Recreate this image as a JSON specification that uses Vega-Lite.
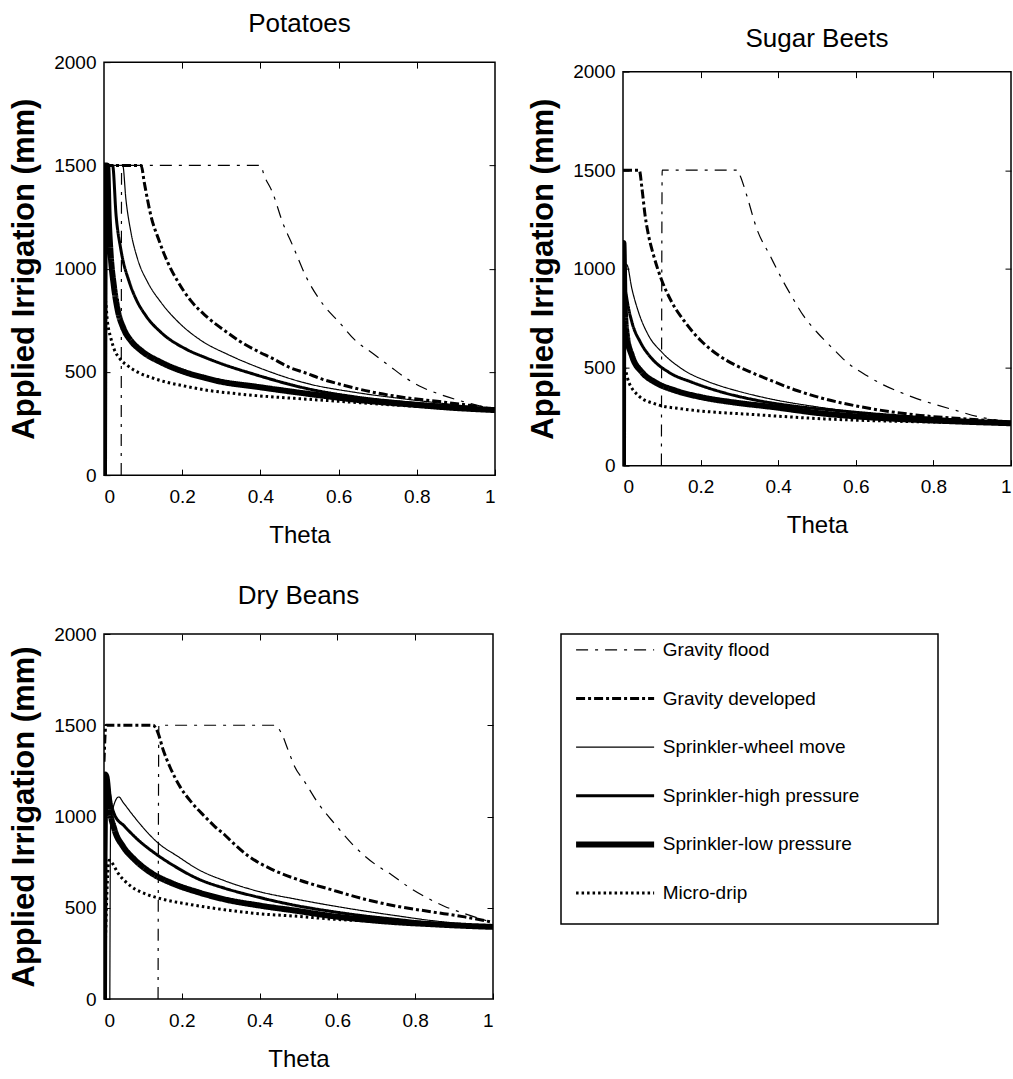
{
"$schema": "https://vega.github.io/schema/vega-lite/v6.json",
"padding": {"left": 7, "top": 10, "right": 0, "bottom": 0},
"background": "white",
"data": {"values": [
{"crop":"Potatoes","method":"Gravity flood","theta":0.044,"value":0},
{"crop":"Potatoes","method":"Gravity flood","theta":0.045,"value":1500},
{"crop":"Potatoes","method":"Gravity flood","theta":0.4,"value":1500},
{"crop":"Potatoes","method":"Gravity flood","theta":0.41,"value":1449},
{"crop":"Potatoes","method":"Gravity flood","theta":0.431,"value":1369},
{"crop":"Potatoes","method":"Gravity flood","theta":0.457,"value":1223},
{"crop":"Potatoes","method":"Gravity flood","theta":0.483,"value":1110},
{"crop":"Potatoes","method":"Gravity flood","theta":0.517,"value":960},
{"crop":"Potatoes","method":"Gravity flood","theta":0.559,"value":830},
{"crop":"Potatoes","method":"Gravity flood","theta":0.602,"value":739},
{"crop":"Potatoes","method":"Gravity flood","theta":0.644,"value":650},
{"crop":"Potatoes","method":"Gravity flood","theta":0.687,"value":590},
{"crop":"Potatoes","method":"Gravity flood","theta":0.73,"value":529},
{"crop":"Potatoes","method":"Gravity flood","theta":0.772,"value":470},
{"crop":"Potatoes","method":"Gravity flood","theta":0.815,"value":424},
{"crop":"Potatoes","method":"Gravity flood","theta":0.858,"value":392},
{"crop":"Potatoes","method":"Gravity flood","theta":0.9,"value":366},
{"crop":"Potatoes","method":"Gravity flood","theta":0.943,"value":344},
{"crop":"Potatoes","method":"Gravity flood","theta":1,"value":318},
{"crop":"Potatoes","method":"Gravity developed","theta":0,"value":1500},
{"crop":"Potatoes","method":"Gravity developed","theta":0.095,"value":1500},
{"crop":"Potatoes","method":"Gravity developed","theta":0.103,"value":1417},
{"crop":"Potatoes","method":"Gravity developed","theta":0.12,"value":1256},
{"crop":"Potatoes","method":"Gravity developed","theta":0.141,"value":1135},
{"crop":"Potatoes","method":"Gravity developed","theta":0.163,"value":1030},
{"crop":"Potatoes","method":"Gravity developed","theta":0.188,"value":940},
{"crop":"Potatoes","method":"Gravity developed","theta":0.222,"value":845},
{"crop":"Potatoes","method":"Gravity developed","theta":0.261,"value":770},
{"crop":"Potatoes","method":"Gravity developed","theta":0.316,"value":690},
{"crop":"Potatoes","method":"Gravity developed","theta":0.346,"value":650},
{"crop":"Potatoes","method":"Gravity developed","theta":0.393,"value":600},
{"crop":"Potatoes","method":"Gravity developed","theta":0.431,"value":565},
{"crop":"Potatoes","method":"Gravity developed","theta":0.474,"value":522},
{"crop":"Potatoes","method":"Gravity developed","theta":0.517,"value":494},
{"crop":"Potatoes","method":"Gravity developed","theta":0.559,"value":464},
{"crop":"Potatoes","method":"Gravity developed","theta":0.602,"value":441},
{"crop":"Potatoes","method":"Gravity developed","theta":0.687,"value":402},
{"crop":"Potatoes","method":"Gravity developed","theta":0.772,"value":375},
{"crop":"Potatoes","method":"Gravity developed","theta":0.858,"value":356},
{"crop":"Potatoes","method":"Gravity developed","theta":0.934,"value":338},
{"crop":"Potatoes","method":"Gravity developed","theta":1,"value":318},
{"crop":"Potatoes","method":"Sprinkler-wheel move","theta":0,"value":0},
{"crop":"Potatoes","method":"Sprinkler-wheel move","theta":0.003,"value":1500},
{"crop":"Potatoes","method":"Sprinkler-wheel move","theta":0.048,"value":1500},
{"crop":"Potatoes","method":"Sprinkler-wheel move","theta":0.056,"value":1337},
{"crop":"Potatoes","method":"Sprinkler-wheel move","theta":0.069,"value":1175},
{"crop":"Potatoes","method":"Sprinkler-wheel move","theta":0.086,"value":1046},
{"crop":"Potatoes","method":"Sprinkler-wheel move","theta":0.112,"value":933},
{"crop":"Potatoes","method":"Sprinkler-wheel move","theta":0.146,"value":836},
{"crop":"Potatoes","method":"Sprinkler-wheel move","theta":0.188,"value":745},
{"crop":"Potatoes","method":"Sprinkler-wheel move","theta":0.25,"value":650},
{"crop":"Potatoes","method":"Sprinkler-wheel move","theta":0.316,"value":585},
{"crop":"Potatoes","method":"Sprinkler-wheel move","theta":0.39,"value":525},
{"crop":"Potatoes","method":"Sprinkler-wheel move","theta":0.517,"value":445},
{"crop":"Potatoes","method":"Sprinkler-wheel move","theta":0.645,"value":400},
{"crop":"Potatoes","method":"Sprinkler-wheel move","theta":0.772,"value":368},
{"crop":"Potatoes","method":"Sprinkler-wheel move","theta":0.9,"value":340},
{"crop":"Potatoes","method":"Sprinkler-wheel move","theta":1,"value":318},
{"crop":"Potatoes","method":"Sprinkler-high pressure","theta":0,"value":0},
{"crop":"Potatoes","method":"Sprinkler-high pressure","theta":0.003,"value":1500},
{"crop":"Potatoes","method":"Sprinkler-high pressure","theta":0.022,"value":1500},
{"crop":"Potatoes","method":"Sprinkler-high pressure","theta":0.031,"value":1256},
{"crop":"Potatoes","method":"Sprinkler-high pressure","theta":0.043,"value":1094},
{"crop":"Potatoes","method":"Sprinkler-high pressure","theta":0.065,"value":933},
{"crop":"Potatoes","method":"Sprinkler-high pressure","theta":0.082,"value":852},
{"crop":"Potatoes","method":"Sprinkler-high pressure","theta":0.107,"value":772},
{"crop":"Potatoes","method":"Sprinkler-high pressure","theta":0.146,"value":691},
{"crop":"Potatoes","method":"Sprinkler-high pressure","theta":0.21,"value":610},
{"crop":"Potatoes","method":"Sprinkler-high pressure","theta":0.261,"value":568},
{"crop":"Potatoes","method":"Sprinkler-high pressure","theta":0.291,"value":546},
{"crop":"Potatoes","method":"Sprinkler-high pressure","theta":0.39,"value":485},
{"crop":"Potatoes","method":"Sprinkler-high pressure","theta":0.517,"value":420},
{"crop":"Potatoes","method":"Sprinkler-high pressure","theta":0.645,"value":378},
{"crop":"Potatoes","method":"Sprinkler-high pressure","theta":0.772,"value":352},
{"crop":"Potatoes","method":"Sprinkler-high pressure","theta":0.9,"value":334},
{"crop":"Potatoes","method":"Sprinkler-high pressure","theta":1,"value":318},
{"crop":"Potatoes","method":"Sprinkler-low pressure","theta":0,"value":0},
{"crop":"Potatoes","method":"Sprinkler-low pressure","theta":0.003,"value":1500},
{"crop":"Potatoes","method":"Sprinkler-low pressure","theta":0.008,"value":1500},
{"crop":"Potatoes","method":"Sprinkler-low pressure","theta":0.012,"value":1250},
{"crop":"Potatoes","method":"Sprinkler-low pressure","theta":0.017,"value":1070},
{"crop":"Potatoes","method":"Sprinkler-low pressure","theta":0.025,"value":920},
{"crop":"Potatoes","method":"Sprinkler-low pressure","theta":0.035,"value":800},
{"crop":"Potatoes","method":"Sprinkler-low pressure","theta":0.05,"value":710},
{"crop":"Potatoes","method":"Sprinkler-low pressure","theta":0.07,"value":648},
{"crop":"Potatoes","method":"Sprinkler-low pressure","theta":0.095,"value":603},
{"crop":"Potatoes","method":"Sprinkler-low pressure","theta":0.146,"value":546},
{"crop":"Potatoes","method":"Sprinkler-low pressure","theta":0.205,"value":500},
{"crop":"Potatoes","method":"Sprinkler-low pressure","theta":0.26,"value":470},
{"crop":"Potatoes","method":"Sprinkler-low pressure","theta":0.29,"value":456},
{"crop":"Potatoes","method":"Sprinkler-low pressure","theta":0.39,"value":428},
{"crop":"Potatoes","method":"Sprinkler-low pressure","theta":0.517,"value":395},
{"crop":"Potatoes","method":"Sprinkler-low pressure","theta":0.645,"value":365},
{"crop":"Potatoes","method":"Sprinkler-low pressure","theta":0.772,"value":344},
{"crop":"Potatoes","method":"Sprinkler-low pressure","theta":0.9,"value":325},
{"crop":"Potatoes","method":"Sprinkler-low pressure","theta":1,"value":315},
{"crop":"Potatoes","method":"Micro-drip","theta":0,"value":0},
{"crop":"Potatoes","method":"Micro-drip","theta":0.003,"value":850},
{"crop":"Potatoes","method":"Micro-drip","theta":0.009,"value":740},
{"crop":"Potatoes","method":"Micro-drip","theta":0.018,"value":660},
{"crop":"Potatoes","method":"Micro-drip","theta":0.026,"value":610},
{"crop":"Potatoes","method":"Micro-drip","theta":0.04,"value":565},
{"crop":"Potatoes","method":"Micro-drip","theta":0.061,"value":529},
{"crop":"Potatoes","method":"Micro-drip","theta":0.09,"value":495},
{"crop":"Potatoes","method":"Micro-drip","theta":0.12,"value":473},
{"crop":"Potatoes","method":"Micro-drip","theta":0.16,"value":450},
{"crop":"Potatoes","method":"Micro-drip","theta":0.205,"value":432},
{"crop":"Potatoes","method":"Micro-drip","theta":0.26,"value":412},
{"crop":"Potatoes","method":"Micro-drip","theta":0.33,"value":396},
{"crop":"Potatoes","method":"Micro-drip","theta":0.39,"value":385},
{"crop":"Potatoes","method":"Micro-drip","theta":0.517,"value":368},
{"crop":"Potatoes","method":"Micro-drip","theta":0.645,"value":352},
{"crop":"Potatoes","method":"Micro-drip","theta":0.772,"value":336},
{"crop":"Potatoes","method":"Micro-drip","theta":0.9,"value":322},
{"crop":"Potatoes","method":"Micro-drip","theta":1,"value":315},
{"crop":"Sugar Beets","method":"Gravity flood","theta":0.099,"value":0},
{"crop":"Sugar Beets","method":"Gravity flood","theta":0.101,"value":1500},
{"crop":"Sugar Beets","method":"Gravity flood","theta":0.295,"value":1500},
{"crop":"Sugar Beets","method":"Gravity flood","theta":0.302,"value":1472},
{"crop":"Sugar Beets","method":"Gravity flood","theta":0.319,"value":1371},
{"crop":"Sugar Beets","method":"Gravity flood","theta":0.345,"value":1201},
{"crop":"Sugar Beets","method":"Gravity flood","theta":0.379,"value":1066},
{"crop":"Sugar Beets","method":"Gravity flood","theta":0.414,"value":931},
{"crop":"Sugar Beets","method":"Gravity flood","theta":0.439,"value":845},
{"crop":"Sugar Beets","method":"Gravity flood","theta":0.465,"value":761},
{"crop":"Sugar Beets","method":"Gravity flood","theta":0.5,"value":677},
{"crop":"Sugar Beets","method":"Gravity flood","theta":0.542,"value":592},
{"crop":"Sugar Beets","method":"Gravity flood","theta":0.577,"value":525},
{"crop":"Sugar Beets","method":"Gravity flood","theta":0.628,"value":457},
{"crop":"Sugar Beets","method":"Gravity flood","theta":0.671,"value":410},
{"crop":"Sugar Beets","method":"Gravity flood","theta":0.714,"value":373},
{"crop":"Sugar Beets","method":"Gravity flood","theta":0.757,"value":340},
{"crop":"Sugar Beets","method":"Gravity flood","theta":0.8,"value":313},
{"crop":"Sugar Beets","method":"Gravity flood","theta":0.86,"value":279},
{"crop":"Sugar Beets","method":"Gravity flood","theta":0.92,"value":246},
{"crop":"Sugar Beets","method":"Gravity flood","theta":0.96,"value":232},
{"crop":"Sugar Beets","method":"Gravity flood","theta":1,"value":220},
{"crop":"Sugar Beets","method":"Gravity developed","theta":0,"value":1500},
{"crop":"Sugar Beets","method":"Gravity developed","theta":0.042,"value":1500},
{"crop":"Sugar Beets","method":"Gravity developed","theta":0.049,"value":1405},
{"crop":"Sugar Beets","method":"Gravity developed","theta":0.057,"value":1269},
{"crop":"Sugar Beets","method":"Gravity developed","theta":0.066,"value":1167},
{"crop":"Sugar Beets","method":"Gravity developed","theta":0.079,"value":1066},
{"crop":"Sugar Beets","method":"Gravity developed","theta":0.1,"value":940},
{"crop":"Sugar Beets","method":"Gravity developed","theta":0.126,"value":829},
{"crop":"Sugar Beets","method":"Gravity developed","theta":0.16,"value":728},
{"crop":"Sugar Beets","method":"Gravity developed","theta":0.203,"value":630},
{"crop":"Sugar Beets","method":"Gravity developed","theta":0.25,"value":555},
{"crop":"Sugar Beets","method":"Gravity developed","theta":0.29,"value":510},
{"crop":"Sugar Beets","method":"Gravity developed","theta":0.323,"value":480},
{"crop":"Sugar Beets","method":"Gravity developed","theta":0.384,"value":430},
{"crop":"Sugar Beets","method":"Gravity developed","theta":0.45,"value":380},
{"crop":"Sugar Beets","method":"Gravity developed","theta":0.508,"value":345},
{"crop":"Sugar Beets","method":"Gravity developed","theta":0.637,"value":290},
{"crop":"Sugar Beets","method":"Gravity developed","theta":0.766,"value":255},
{"crop":"Sugar Beets","method":"Gravity developed","theta":0.894,"value":236},
{"crop":"Sugar Beets","method":"Gravity developed","theta":1,"value":222},
{"crop":"Sugar Beets","method":"Sprinkler-wheel move","theta":0,"value":0},
{"crop":"Sugar Beets","method":"Sprinkler-wheel move","theta":0.004,"value":1024},
{"crop":"Sugar Beets","method":"Sprinkler-wheel move","theta":0.01,"value":1020},
{"crop":"Sugar Beets","method":"Sprinkler-wheel move","theta":0.023,"value":897},
{"crop":"Sugar Beets","method":"Sprinkler-wheel move","theta":0.04,"value":779},
{"crop":"Sugar Beets","method":"Sprinkler-wheel move","theta":0.066,"value":660},
{"crop":"Sugar Beets","method":"Sprinkler-wheel move","theta":0.1,"value":576},
{"crop":"Sugar Beets","method":"Sprinkler-wheel move","theta":0.152,"value":491},
{"crop":"Sugar Beets","method":"Sprinkler-wheel move","theta":0.221,"value":425},
{"crop":"Sugar Beets","method":"Sprinkler-wheel move","theta":0.25,"value":405},
{"crop":"Sugar Beets","method":"Sprinkler-wheel move","theta":0.306,"value":373},
{"crop":"Sugar Beets","method":"Sprinkler-wheel move","theta":0.379,"value":339},
{"crop":"Sugar Beets","method":"Sprinkler-wheel move","theta":0.508,"value":296},
{"crop":"Sugar Beets","method":"Sprinkler-wheel move","theta":0.637,"value":264},
{"crop":"Sugar Beets","method":"Sprinkler-wheel move","theta":0.766,"value":246},
{"crop":"Sugar Beets","method":"Sprinkler-wheel move","theta":0.894,"value":229},
{"crop":"Sugar Beets","method":"Sprinkler-wheel move","theta":1,"value":218},
{"crop":"Sugar Beets","method":"Sprinkler-high pressure","theta":0,"value":0},
{"crop":"Sugar Beets","method":"Sprinkler-high pressure","theta":0.001,"value":1050},
{"crop":"Sugar Beets","method":"Sprinkler-high pressure","theta":0.003,"value":950},
{"crop":"Sugar Beets","method":"Sprinkler-high pressure","theta":0.01,"value":846},
{"crop":"Sugar Beets","method":"Sprinkler-high pressure","theta":0.023,"value":728},
{"crop":"Sugar Beets","method":"Sprinkler-high pressure","theta":0.045,"value":626},
{"crop":"Sugar Beets","method":"Sprinkler-high pressure","theta":0.075,"value":542},
{"crop":"Sugar Beets","method":"Sprinkler-high pressure","theta":0.118,"value":474},
{"crop":"Sugar Beets","method":"Sprinkler-high pressure","theta":0.178,"value":423},
{"crop":"Sugar Beets","method":"Sprinkler-high pressure","theta":0.255,"value":373},
{"crop":"Sugar Beets","method":"Sprinkler-high pressure","theta":0.349,"value":330},
{"crop":"Sugar Beets","method":"Sprinkler-high pressure","theta":0.45,"value":300},
{"crop":"Sugar Beets","method":"Sprinkler-high pressure","theta":0.55,"value":280},
{"crop":"Sugar Beets","method":"Sprinkler-high pressure","theta":0.65,"value":262},
{"crop":"Sugar Beets","method":"Sprinkler-high pressure","theta":0.766,"value":245},
{"crop":"Sugar Beets","method":"Sprinkler-high pressure","theta":0.894,"value":228},
{"crop":"Sugar Beets","method":"Sprinkler-high pressure","theta":1,"value":217},
{"crop":"Sugar Beets","method":"Sprinkler-low pressure","theta":0,"value":0},
{"crop":"Sugar Beets","method":"Sprinkler-low pressure","theta":0.001,"value":1130},
{"crop":"Sugar Beets","method":"Sprinkler-low pressure","theta":0.004,"value":820},
{"crop":"Sugar Beets","method":"Sprinkler-low pressure","theta":0.01,"value":660},
{"crop":"Sugar Beets","method":"Sprinkler-low pressure","theta":0.023,"value":558},
{"crop":"Sugar Beets","method":"Sprinkler-low pressure","theta":0.049,"value":474},
{"crop":"Sugar Beets","method":"Sprinkler-low pressure","theta":0.083,"value":423},
{"crop":"Sugar Beets","method":"Sprinkler-low pressure","theta":0.135,"value":381},
{"crop":"Sugar Beets","method":"Sprinkler-low pressure","theta":0.203,"value":347},
{"crop":"Sugar Beets","method":"Sprinkler-low pressure","theta":0.289,"value":320},
{"crop":"Sugar Beets","method":"Sprinkler-low pressure","theta":0.384,"value":298},
{"crop":"Sugar Beets","method":"Sprinkler-low pressure","theta":0.508,"value":266},
{"crop":"Sugar Beets","method":"Sprinkler-low pressure","theta":0.637,"value":245},
{"crop":"Sugar Beets","method":"Sprinkler-low pressure","theta":0.766,"value":232},
{"crop":"Sugar Beets","method":"Sprinkler-low pressure","theta":0.894,"value":222},
{"crop":"Sugar Beets","method":"Sprinkler-low pressure","theta":1,"value":215},
{"crop":"Sugar Beets","method":"Micro-drip","theta":0,"value":0},
{"crop":"Sugar Beets","method":"Micro-drip","theta":0.002,"value":500},
{"crop":"Sugar Beets","method":"Micro-drip","theta":0.015,"value":423},
{"crop":"Sugar Beets","method":"Micro-drip","theta":0.04,"value":355},
{"crop":"Sugar Beets","method":"Micro-drip","theta":0.083,"value":313},
{"crop":"Sugar Beets","method":"Micro-drip","theta":0.152,"value":288},
{"crop":"Sugar Beets","method":"Micro-drip","theta":0.238,"value":271},
{"crop":"Sugar Beets","method":"Micro-drip","theta":0.323,"value":261},
{"crop":"Sugar Beets","method":"Micro-drip","theta":0.384,"value":253},
{"crop":"Sugar Beets","method":"Micro-drip","theta":0.52,"value":237},
{"crop":"Sugar Beets","method":"Micro-drip","theta":0.65,"value":228},
{"crop":"Sugar Beets","method":"Micro-drip","theta":0.8,"value":221},
{"crop":"Sugar Beets","method":"Micro-drip","theta":1,"value":214},
{"crop":"Dry Beans","method":"Gravity flood","theta":0.139,"value":0},
{"crop":"Dry Beans","method":"Gravity flood","theta":0.141,"value":1500},
{"crop":"Dry Beans","method":"Gravity flood","theta":0.439,"value":1500},
{"crop":"Dry Beans","method":"Gravity flood","theta":0.456,"value":1457},
{"crop":"Dry Beans","method":"Gravity flood","theta":0.473,"value":1366},
{"crop":"Dry Beans","method":"Gravity flood","theta":0.49,"value":1274},
{"crop":"Dry Beans","method":"Gravity flood","theta":0.516,"value":1190},
{"crop":"Dry Beans","method":"Gravity flood","theta":0.55,"value":1074},
{"crop":"Dry Beans","method":"Gravity flood","theta":0.593,"value":960},
{"crop":"Dry Beans","method":"Gravity flood","theta":0.644,"value":836},
{"crop":"Dry Beans","method":"Gravity flood","theta":0.696,"value":740},
{"crop":"Dry Beans","method":"Gravity flood","theta":0.739,"value":681},
{"crop":"Dry Beans","method":"Gravity flood","theta":0.781,"value":617},
{"crop":"Dry Beans","method":"Gravity flood","theta":0.824,"value":562},
{"crop":"Dry Beans","method":"Gravity flood","theta":0.876,"value":507},
{"crop":"Dry Beans","method":"Gravity flood","theta":0.927,"value":468},
{"crop":"Dry Beans","method":"Gravity flood","theta":0.961,"value":444},
{"crop":"Dry Beans","method":"Gravity flood","theta":1,"value":418},
{"crop":"Dry Beans","method":"Gravity developed","theta":0,"value":1300},
{"crop":"Dry Beans","method":"Gravity developed","theta":0.005,"value":1500},
{"crop":"Dry Beans","method":"Gravity developed","theta":0.126,"value":1500},
{"crop":"Dry Beans","method":"Gravity developed","theta":0.139,"value":1457},
{"crop":"Dry Beans","method":"Gravity developed","theta":0.152,"value":1366},
{"crop":"Dry Beans","method":"Gravity developed","theta":0.169,"value":1274},
{"crop":"Dry Beans","method":"Gravity developed","theta":0.195,"value":1165},
{"crop":"Dry Beans","method":"Gravity developed","theta":0.224,"value":1080},
{"crop":"Dry Beans","method":"Gravity developed","theta":0.259,"value":1000},
{"crop":"Dry Beans","method":"Gravity developed","theta":0.285,"value":945},
{"crop":"Dry Beans","method":"Gravity developed","theta":0.31,"value":900},
{"crop":"Dry Beans","method":"Gravity developed","theta":0.327,"value":865},
{"crop":"Dry Beans","method":"Gravity developed","theta":0.37,"value":785},
{"crop":"Dry Beans","method":"Gravity developed","theta":0.43,"value":712},
{"crop":"Dry Beans","method":"Gravity developed","theta":0.499,"value":654},
{"crop":"Dry Beans","method":"Gravity developed","theta":0.584,"value":599},
{"crop":"Dry Beans","method":"Gravity developed","theta":0.67,"value":547},
{"crop":"Dry Beans","method":"Gravity developed","theta":0.756,"value":507},
{"crop":"Dry Beans","method":"Gravity developed","theta":0.841,"value":478},
{"crop":"Dry Beans","method":"Gravity developed","theta":0.927,"value":450},
{"crop":"Dry Beans","method":"Gravity developed","theta":1,"value":420},
{"crop":"Dry Beans","method":"Sprinkler-wheel move","theta":0.015,"value":0},
{"crop":"Dry Beans","method":"Sprinkler-wheel move","theta":0.017,"value":960},
{"crop":"Dry Beans","method":"Sprinkler-wheel move","theta":0.025,"value":1060},
{"crop":"Dry Beans","method":"Sprinkler-wheel move","theta":0.038,"value":1107},
{"crop":"Dry Beans","method":"Sprinkler-wheel move","theta":0.05,"value":1075},
{"crop":"Dry Beans","method":"Sprinkler-wheel move","theta":0.07,"value":1019},
{"crop":"Dry Beans","method":"Sprinkler-wheel move","theta":0.105,"value":928},
{"crop":"Dry Beans","method":"Sprinkler-wheel move","theta":0.139,"value":855},
{"crop":"Dry Beans","method":"Sprinkler-wheel move","theta":0.19,"value":781},
{"crop":"Dry Beans","method":"Sprinkler-wheel move","theta":0.242,"value":710},
{"crop":"Dry Beans","method":"Sprinkler-wheel move","theta":0.31,"value":648},
{"crop":"Dry Beans","method":"Sprinkler-wheel move","theta":0.4,"value":588},
{"crop":"Dry Beans","method":"Sprinkler-wheel move","theta":0.499,"value":545},
{"crop":"Dry Beans","method":"Sprinkler-wheel move","theta":0.584,"value":512},
{"crop":"Dry Beans","method":"Sprinkler-wheel move","theta":0.67,"value":482},
{"crop":"Dry Beans","method":"Sprinkler-wheel move","theta":0.756,"value":455},
{"crop":"Dry Beans","method":"Sprinkler-wheel move","theta":0.841,"value":430},
{"crop":"Dry Beans","method":"Sprinkler-wheel move","theta":0.927,"value":412},
{"crop":"Dry Beans","method":"Sprinkler-wheel move","theta":1,"value":400},
{"crop":"Dry Beans","method":"Sprinkler-high pressure","theta":0,"value":0},
{"crop":"Dry Beans","method":"Sprinkler-high pressure","theta":0.008,"value":1190},
{"crop":"Dry Beans","method":"Sprinkler-high pressure","theta":0.012,"value":1150},
{"crop":"Dry Beans","method":"Sprinkler-high pressure","theta":0.02,"value":1060},
{"crop":"Dry Beans","method":"Sprinkler-high pressure","theta":0.027,"value":1010},
{"crop":"Dry Beans","method":"Sprinkler-high pressure","theta":0.053,"value":946},
{"crop":"Dry Beans","method":"Sprinkler-high pressure","theta":0.087,"value":873},
{"crop":"Dry Beans","method":"Sprinkler-high pressure","theta":0.13,"value":800},
{"crop":"Dry Beans","method":"Sprinkler-high pressure","theta":0.182,"value":727},
{"crop":"Dry Beans","method":"Sprinkler-high pressure","theta":0.242,"value":658},
{"crop":"Dry Beans","method":"Sprinkler-high pressure","theta":0.31,"value":607},
{"crop":"Dry Beans","method":"Sprinkler-high pressure","theta":0.387,"value":563},
{"crop":"Dry Beans","method":"Sprinkler-high pressure","theta":0.499,"value":510},
{"crop":"Dry Beans","method":"Sprinkler-high pressure","theta":0.584,"value":480},
{"crop":"Dry Beans","method":"Sprinkler-high pressure","theta":0.67,"value":455},
{"crop":"Dry Beans","method":"Sprinkler-high pressure","theta":0.756,"value":435},
{"crop":"Dry Beans","method":"Sprinkler-high pressure","theta":0.841,"value":416},
{"crop":"Dry Beans","method":"Sprinkler-high pressure","theta":0.927,"value":404},
{"crop":"Dry Beans","method":"Sprinkler-high pressure","theta":1,"value":398},
{"crop":"Dry Beans","method":"Sprinkler-low pressure","theta":0,"value":0},
{"crop":"Dry Beans","method":"Sprinkler-low pressure","theta":0.003,"value":1230},
{"crop":"Dry Beans","method":"Sprinkler-low pressure","theta":0.006,"value":1220},
{"crop":"Dry Beans","method":"Sprinkler-low pressure","theta":0.015,"value":1037},
{"crop":"Dry Beans","method":"Sprinkler-low pressure","theta":0.027,"value":928},
{"crop":"Dry Beans","method":"Sprinkler-low pressure","theta":0.049,"value":836},
{"crop":"Dry Beans","method":"Sprinkler-low pressure","theta":0.079,"value":763},
{"crop":"Dry Beans","method":"Sprinkler-low pressure","theta":0.122,"value":690},
{"crop":"Dry Beans","method":"Sprinkler-low pressure","theta":0.173,"value":636},
{"crop":"Dry Beans","method":"Sprinkler-low pressure","theta":0.242,"value":585},
{"crop":"Dry Beans","method":"Sprinkler-low pressure","theta":0.31,"value":546},
{"crop":"Dry Beans","method":"Sprinkler-low pressure","theta":0.4,"value":512},
{"crop":"Dry Beans","method":"Sprinkler-low pressure","theta":0.499,"value":482},
{"crop":"Dry Beans","method":"Sprinkler-low pressure","theta":0.584,"value":455},
{"crop":"Dry Beans","method":"Sprinkler-low pressure","theta":0.67,"value":435},
{"crop":"Dry Beans","method":"Sprinkler-low pressure","theta":0.756,"value":420},
{"crop":"Dry Beans","method":"Sprinkler-low pressure","theta":0.841,"value":410},
{"crop":"Dry Beans","method":"Sprinkler-low pressure","theta":0.927,"value":401},
{"crop":"Dry Beans","method":"Sprinkler-low pressure","theta":1,"value":395},
{"crop":"Dry Beans","method":"Micro-drip","theta":0,"value":0},
{"crop":"Dry Beans","method":"Micro-drip","theta":0.013,"value":760},
{"crop":"Dry Beans","method":"Micro-drip","theta":0.019,"value":750},
{"crop":"Dry Beans","method":"Micro-drip","theta":0.036,"value":690},
{"crop":"Dry Beans","method":"Micro-drip","theta":0.07,"value":617},
{"crop":"Dry Beans","method":"Micro-drip","theta":0.113,"value":571},
{"crop":"Dry Beans","method":"Micro-drip","theta":0.156,"value":544},
{"crop":"Dry Beans","method":"Micro-drip","theta":0.224,"value":517},
{"crop":"Dry Beans","method":"Micro-drip","theta":0.31,"value":489},
{"crop":"Dry Beans","method":"Micro-drip","theta":0.4,"value":467},
{"crop":"Dry Beans","method":"Micro-drip","theta":0.499,"value":453},
{"crop":"Dry Beans","method":"Micro-drip","theta":0.584,"value":438},
{"crop":"Dry Beans","method":"Micro-drip","theta":0.7,"value":425},
{"crop":"Dry Beans","method":"Micro-drip","theta":0.85,"value":410},
{"crop":"Dry Beans","method":"Micro-drip","theta":1,"value":395}
]},
"spacing": 34,
"vconcat": [
{"hconcat": [
{"title": {"text": "Potatoes"},
 "width": 391, "height": 413,
 "transform": [{"filter": "datum.crop === 'Potatoes'"}],
 "layer": [
  {"mark": {"type": "line", "color": "black", "clip": true, "interpolate": "monotone"},
   "encoding": {
    "x": {"field": "theta", "type": "quantitative", "scale": {"domain": [0, 1], "nice": false}, "axis": {"title": "Theta", "values": [0, 0.2, 0.4, 0.6, 0.8, 1], "format": "~g"}},
    "y": {"field": "value", "type": "quantitative", "scale": {"domain": [0, 2000], "nice": false}, "axis": {"title": "Applied Irrigation (mm)", "values": [0, 500, 1000, 1500, 2000], "format": "d"}},
    "strokeDash": {"field": "method", "type": "nominal", "scale": {"domain": ["Gravity flood", "Gravity developed", "Sprinkler-wheel move", "Sprinkler-high pressure", "Sprinkler-low pressure", "Micro-drip"], "range": [[12, 7, 3, 7], [9, 3, 3, 3], [1, 0], [1, 0], [1, 0], [2.5, 3]]}, "legend": null},
    "strokeWidth": {"field": "method", "type": "nominal", "scale": {"type": "ordinal", "domain": ["Gravity flood", "Gravity developed", "Sprinkler-wheel move", "Sprinkler-high pressure", "Sprinkler-low pressure", "Micro-drip"], "range": [1.2, 3, 1.2, 3, 6, 3]}, "legend": null}
   }},
  {"mark": {"type": "point", "opacity": 0},
   "encoding": {
    "x": {"field": "theta", "type": "quantitative", "axis": {"orient": "top", "title": null, "labels": false, "values": [0.2, 0.4, 0.6, 0.8]}},
    "y": {"field": "value", "type": "quantitative", "axis": {"orient": "right", "title": null, "labels": false, "values": [500, 1000, 1500]}}
   }}
 ],
 "resolve": {"axis": {"x": "independent", "y": "independent"}}
},
{"title": {"text": "Sugar Beets", "offset": 11},
 "width": 388, "height": 394,
 "transform": [{"filter": "datum.crop === 'Sugar Beets'"}],
 "layer": [
  {"mark": {"type": "line", "color": "black", "clip": true, "interpolate": "monotone"},
   "encoding": {
    "x": {"field": "theta", "type": "quantitative", "scale": {"domain": [0, 1], "nice": false}, "axis": {"title": "Theta", "values": [0, 0.2, 0.4, 0.6, 0.8, 1], "format": "~g"}},
    "y": {"field": "value", "type": "quantitative", "scale": {"domain": [0, 2000], "nice": false}, "axis": {"title": "Applied Irrigation (mm)", "values": [0, 500, 1000, 1500, 2000], "format": "d"}},
    "strokeDash": {"field": "method", "type": "nominal", "scale": {"domain": ["Gravity flood", "Gravity developed", "Sprinkler-wheel move", "Sprinkler-high pressure", "Sprinkler-low pressure", "Micro-drip"], "range": [[12, 7, 3, 7], [9, 3, 3, 3], [1, 0], [1, 0], [1, 0], [2.5, 3]]}, "legend": null},
    "strokeWidth": {"field": "method", "type": "nominal", "scale": {"type": "ordinal", "domain": ["Gravity flood", "Gravity developed", "Sprinkler-wheel move", "Sprinkler-high pressure", "Sprinkler-low pressure", "Micro-drip"], "range": [1.2, 3, 1.2, 3, 6, 3]}, "legend": null}
   }},
  {"mark": {"type": "point", "opacity": 0},
   "encoding": {
    "x": {"field": "theta", "type": "quantitative", "axis": {"orient": "top", "title": null, "labels": false, "values": [0.2, 0.4, 0.6, 0.8]}},
    "y": {"field": "value", "type": "quantitative", "axis": {"orient": "right", "title": null, "labels": false, "values": [500, 1000, 1500]}}
   }}
 ],
 "resolve": {"axis": {"x": "independent", "y": "independent"}}
}
], "spacing": 27, "center": true},
{"hconcat": [
{"title": {"text": "Dry Beans"},
 "width": 389, "height": 365,
 "transform": [{"filter": "datum.crop === 'Dry Beans'"}],
 "layer": [
  {"mark": {"type": "line", "color": "black", "clip": true, "interpolate": "monotone"},
   "encoding": {
    "x": {"field": "theta", "type": "quantitative", "scale": {"domain": [0, 1], "nice": false}, "axis": {"title": "Theta", "values": [0, 0.2, 0.4, 0.6, 0.8, 1], "format": "~g"}},
    "y": {"field": "value", "type": "quantitative", "scale": {"domain": [0, 2000], "nice": false}, "axis": {"title": "Applied Irrigation (mm)", "values": [0, 500, 1000, 1500, 2000], "format": "d"}},
    "strokeDash": {"field": "method", "type": "nominal", "scale": {"domain": ["Gravity flood", "Gravity developed", "Sprinkler-wheel move", "Sprinkler-high pressure", "Sprinkler-low pressure", "Micro-drip"], "range": [[12, 7, 3, 7], [9, 3, 3, 3], [1, 0], [1, 0], [1, 0], [2.5, 3]]}, "legend": null},
    "strokeWidth": {"field": "method", "type": "nominal", "scale": {"type": "ordinal", "domain": ["Gravity flood", "Gravity developed", "Sprinkler-wheel move", "Sprinkler-high pressure", "Sprinkler-low pressure", "Micro-drip"], "range": [1.2, 3, 1.2, 3, 6, 3]}, "legend": null}
   }},
  {"mark": {"type": "point", "opacity": 0},
   "encoding": {
    "x": {"field": "theta", "type": "quantitative", "axis": {"orient": "top", "title": null, "labels": false, "values": [0.2, 0.4, 0.6, 0.8]}},
    "y": {"field": "value", "type": "quantitative", "axis": {"orient": "right", "title": null, "labels": false, "values": [500, 1000, 1500]}}
   }}
 ],
 "resolve": {"axis": {"x": "independent", "y": "independent"}}
},
{"width": 377, "height": 290,
 "transform": [{"filter": "datum.crop === 'Potatoes'"}, {"aggregate": [{"op": "count", "as": "n"}], "groupby": ["method"]}],
 "layer": [
  {"mark": {"type": "rule", "color": "black"},
   "encoding": {
    "x": {"datum": 0.04, "type": "quantitative", "scale": {"domain": [0, 1], "nice": false}, "axis": null},
    "x2": {"datum": 0.247},
    "y": {"field": "method", "type": "nominal", "scale": {"type": "point", "domain": ["Gravity flood", "Gravity developed", "Sprinkler-wheel move", "Sprinkler-high pressure", "Sprinkler-low pressure", "Micro-drip"], "padding": 0.483, "align": 0.34}, "axis": null},
    "strokeDash": {"field": "method", "type": "nominal", "scale": {"domain": ["Gravity flood", "Gravity developed", "Sprinkler-wheel move", "Sprinkler-high pressure", "Sprinkler-low pressure", "Micro-drip"], "range": [[12, 7, 3, 7], [9, 3, 3, 3], [1, 0], [1, 0], [1, 0], [2.5, 3]]}, "legend": null},
    "strokeWidth": {"field": "method", "type": "nominal", "scale": {"type": "ordinal", "domain": ["Gravity flood", "Gravity developed", "Sprinkler-wheel move", "Sprinkler-high pressure", "Sprinkler-low pressure", "Micro-drip"], "range": [1.2, 3, 1.2, 3, 6, 3]}, "legend": null}
   }},
  {"mark": {"type": "text", "align": "left", "baseline": "middle", "font": "Liberation Sans, Arial, sans-serif", "fontSize": 19, "color": "black"},
   "encoding": {
    "x": {"datum": 0.27, "type": "quantitative"},
    "y": {"field": "method", "type": "nominal"},
    "text": {"field": "method"}
   }}
 ]
}
], "spacing": 63}
],
"config": {
 "view": {"stroke": "black", "strokeWidth": 1.5},
 "title": {"font": "Liberation Sans, Arial, sans-serif", "fontSize": 26, "fontWeight": "normal", "color": "black", "offset": 16, "anchor": "middle"},
 "axis": {"grid": false, "domain": false, "labelFont": "Liberation Sans, Arial, sans-serif", "labelFontSize": 19, "labelColor": "black", "tickColor": "black", "tickSize": -6, "tickWidth": 1, "titleColor": "black"},
 "axisX": {"labelPadding": 18, "titleFont": "Liberation Sans, Arial, sans-serif", "titleFontSize": 24, "titleFontWeight": "normal", "titlePadding": 17},
 "axisY": {"labelPadding": 14, "titleFont": "Liberation Sans, Arial, sans-serif", "titleFontSize": 31, "titleFontWeight": "bold", "titlePadding": 13}
}
}
